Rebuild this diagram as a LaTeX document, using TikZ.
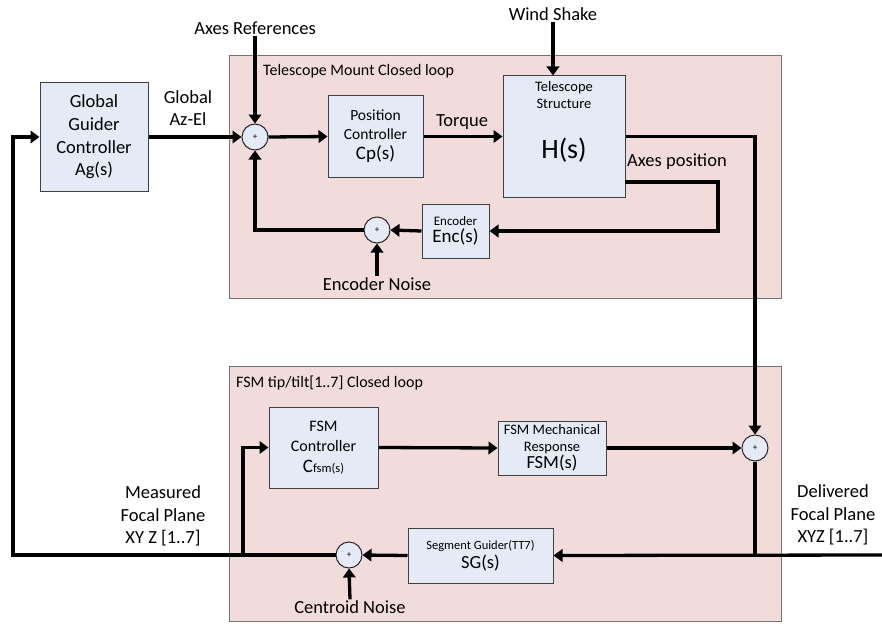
\documentclass[tikz,border=0pt]{standalone}
\usepackage{fontspec}
\setmainfont{Carlito}
\usetikzlibrary{arrows.meta,positioning}

\definecolor{loopbg}{HTML}{F2DCDB}
\definecolor{blockbg}{HTML}{E4EBF6}
\newcommand{\fsz}[2]{\fontsize{#1}{#2}\selectfont}

\tikzset{
  block/.style={draw=black!75, line width=1pt, fill=blockbg, align=center, inner sep=0pt},
  sumnode/.style={circle, draw=black!85, line width=1pt, fill=blockbg, minimum size=26, inner sep=0pt, font=\fsz{9}{10}},
  loopbox/.style={draw=black!55, line width=0.9pt, fill=loopbg},
  sig/.style={line width=3.3pt, -{Triangle[length=9pt,width=12.5pt]}},
  wire/.style={line width=3.3pt},
  lbl/.style={font=\fsz{18.5}{22.7}, align=center, inner sep=1pt},
  looptitle/.style={font=\fsz{16}{19}, anchor=west, inner sep=0pt},
}

\begin{document}
\begin{tikzpicture}[x=1pt, y=-1pt]
    \useasboundingbox (0,0) rectangle (882,623);

    % Loop backgrounds
    \draw[loopbox] (229,55) rectangle (781,298);
    \draw[loopbox] (229,366) rectangle (781,621);
    \node[looptitle] (mounttitle) at (263,71) {Telescope Mount Closed loop};
    \node[looptitle] (fsmtitle) at (236,383) {FSM tip/tilt[1..7] Closed loop};

    % Mount loop blocks
    \node[block, minimum width=108, minimum height=108, font=\fsz{18.5}{22.7}] (gg) at (94,137) {Global\\Guider\\Controller\\Ag(s)};
    \node[sumnode] (sumref) at (255,137) {+};
    \node[block, minimum width=95, minimum height=81, font=\fsz{15.5}{18.5}] (pc) at (375.5,136.5) {Position\\Controller\\[2pt]{\fsz{19}{22}Cp(s)}};
    \node[block, minimum width=122, minimum height=121] (hs) at (564,136.5) {};
    \node[font=\fsz{14.5}{17}, align=center, inner sep=0pt, below=6pt of hs.north] (hstitle) {Telescope\\Structure};
    \node[font=\fsz{28}{32}, inner sep=0pt] (hsname) at (564,150) {H(s)};
    \node[block, minimum width=67, minimum height=54, font=\fsz{13}{15.5}] (enc) at (455.5,231) {Encoder\\[1pt]{\fsz{19}{22}Enc(s)}};
    \node[sumnode] (sumenc) at (377,230) {+};

    % FSM loop blocks
    \node[block, minimum width=109, minimum height=81, font=\fsz{16}{20}] (fsmc) at (323.5,447.5) {FSM\\Controller\\[1pt]{\fsz{19}{22}C}{\fsz{12.5}{15}fsm(s)}};
    \node[block, minimum width=108, minimum height=54, font=\fsz{14.5}{16.5}] (fsmm) at (552,448) {FSM Mechanical\\Response\\[1pt]{\fsz{18.5}{20}FSM(s)}};
    \node[sumnode] (sumfsm) at (755,448) {+};
    \node[block, minimum width=145, minimum height=55, font=\fsz{12.5}{15}] (sg) at (480.5,555.5) {Segment Guider(TT7)\\[2pt]{\fsz{18.5}{21}SG(s)}};
    \node[sumnode] (sumcen) at (349,555) {+};

    % Signal labels
    \node[lbl] (axref) at (255,28) {Axes References};
    \node[lbl] (wind) at (553,14) {Wind Shake};
    \node[lbl] (azel) at (188,108) {Global\\Az-El};
    \node[lbl] (torque) at (462,122) {Torque};
    \node[lbl] (axpos) at (677,162) {Axes position};
    \node[lbl] (encnoise) at (377,284) {Encoder Noise};
    \node[lbl] (cennoise) at (350,607) {Centroid Noise};
    \node[lbl] (meas) at (163,516) {Measured\\Focal Plane\\XY Z [1..7]};
    \node[lbl] (deliv) at (833,515) {Delivered\\Focal Plane\\XYZ [1..7]};

    % Wire corners and taps
    \coordinate (hsaxes) at (625,182);
    \coordinate (encturn) at (718,182);
    \coordinate (fpin) at (882,555);
    \coordinate (fbcorner) at (13,555);
    \coordinate (fsmtap) at (243,555);

    % Mount loop signals
    \draw[sig] (axref.south) -- (sumref.north);
    \draw[sig] (gg.east) -- (sumref.west);
    \draw[sig] (sumref.east) -- (pc.west);
    \draw[sig] (pc.east) -- (hs.west);
    \draw[sig] (wind.south) -- (wind.south |- hs.north);
    \draw[sig] (hs.east) -| (sumfsm.north);
    \draw[sig] (hsaxes) -- (encturn) |- (enc.east);
    \draw[sig] (enc.west) -- (sumenc.east);
    \draw[sig] (encnoise.north) -- (sumenc.south);
    \draw[sig] (sumenc.west) -| (sumref.south);

    % FSM loop signals
    \draw[sig] (fsmc.east) -- (fsmm.west);
    \draw[sig] (fsmm.east) -- (sumfsm.west);
    \draw[wire] (sumfsm.south) -- (sumfsm.south |- fpin);
    \draw[sig] (fpin) -- (sg.east);
    \draw[sig] (sg.west) -- (sumcen.east);
    \draw[sig] (cennoise.north) -- (sumcen.south);
    \draw[sig] (sumcen.west) -- (fbcorner) |- (gg.west);
    \draw[sig] (fsmtap) |- (fsmc.west);
\end{tikzpicture}
\end{document}
